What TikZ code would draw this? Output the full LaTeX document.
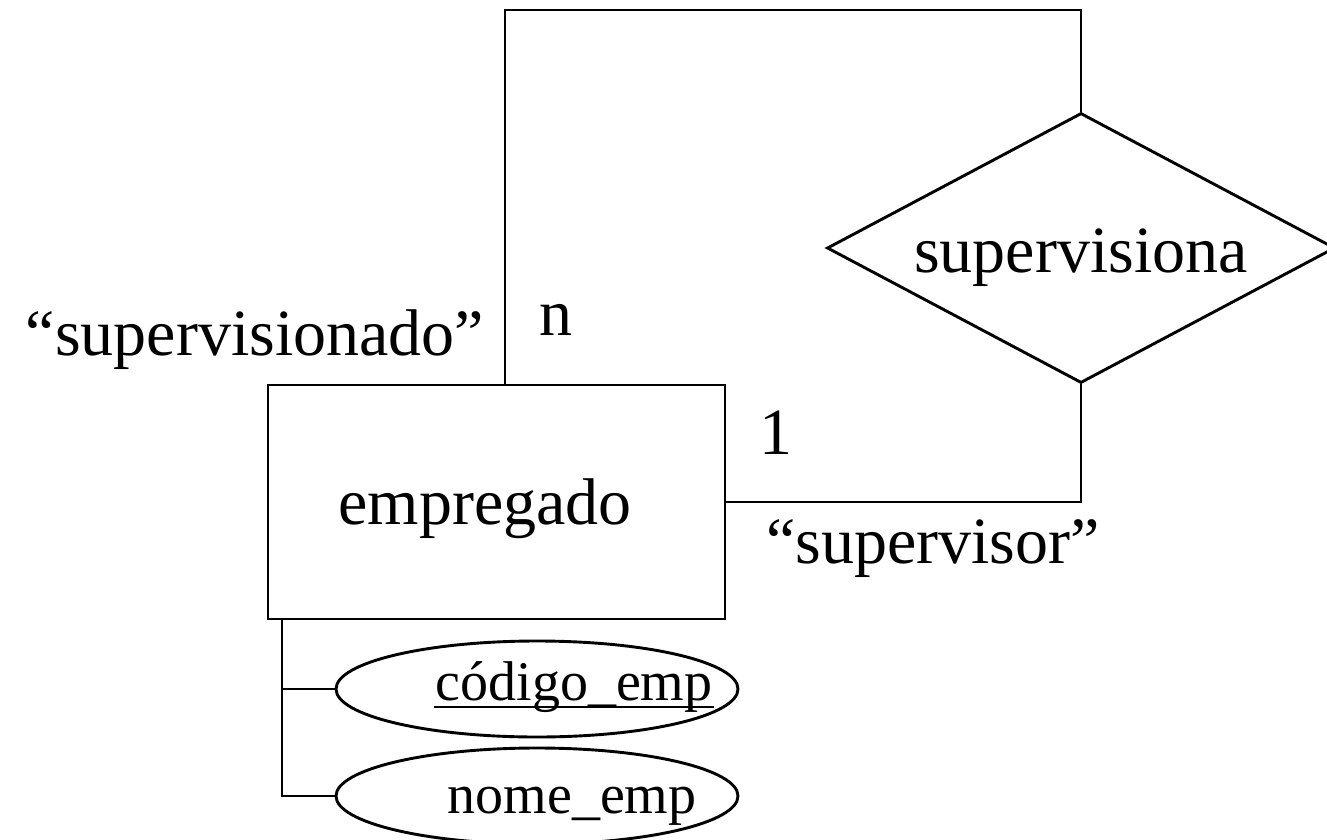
\documentclass[tikz,border=0pt]{standalone}
\usepackage{fontspec}
\setmainfont{Liberation Serif}
\usetikzlibrary{shapes.geometric}
\begin{document}
\begin{tikzpicture}[x=1pt,y=-1pt,
  line width=2.9pt,
  big/.style={font=\fontsize{66}{70}\selectfont, inner sep=0pt, anchor=base},
  small/.style={font=\fontsize{56}{60}\selectfont, inner sep=0pt, anchor=base},
  entity/.style={draw, rectangle, minimum width=457pt, minimum height=234pt, inner sep=0pt},
  relation/.style={draw, diamond, minimum width=508pt, minimum height=270pt, inner sep=0pt, aspect=1.88},
  attrib/.style={draw, ellipse, minimum width=402pt, minimum height=96pt, inner sep=0pt}]
\useasboundingbox (0,0) rectangle (1327,840);
\clip (0,0) rectangle (1327,840);

% entity and relationship
\node[entity] (ent) at (496.5,502) {};
\node[big] (entlbl) at (485,524) {empregado};
\node[relation] (rel) at (1081,248) {};
\node[big] (rellbl) at (1081,272) {supervisiona};

% attributes
\node[attrib] (a1) at (537,689) {};
\node[small] (cod) at (574,700) {código\_emp};
\node[attrib] (a2) at (537,796) {};
\node[small] (nome) at (572,813) {nome\_emp};
\draw[line width=2.2pt] ([yshift=-7pt]cod.base west) -- ([yshift=-7pt]cod.base east);

% connectors of the self relationship
\coordinate (loopL) at (505,10);
\draw (ent.north -| loopL) -- (loopL) -| (rel.north);
\draw (rel.south) |- (ent.east);

% attribute connectors
\coordinate (attrL) at (282,0);
\draw (ent.south -| attrL) |- (a2.west);
\draw (a1.west -| attrL) -- (a1.west);

% roles and cardinalities
\node[big] (role1) at (255,355) {“supervisionado”};
\node[big] (card1) at (556,335) {n};
\node[big] (card2) at (776,454) {1};
\node[big] (role2) at (933,563) {“supervisor”};
\end{tikzpicture}
\end{document}
